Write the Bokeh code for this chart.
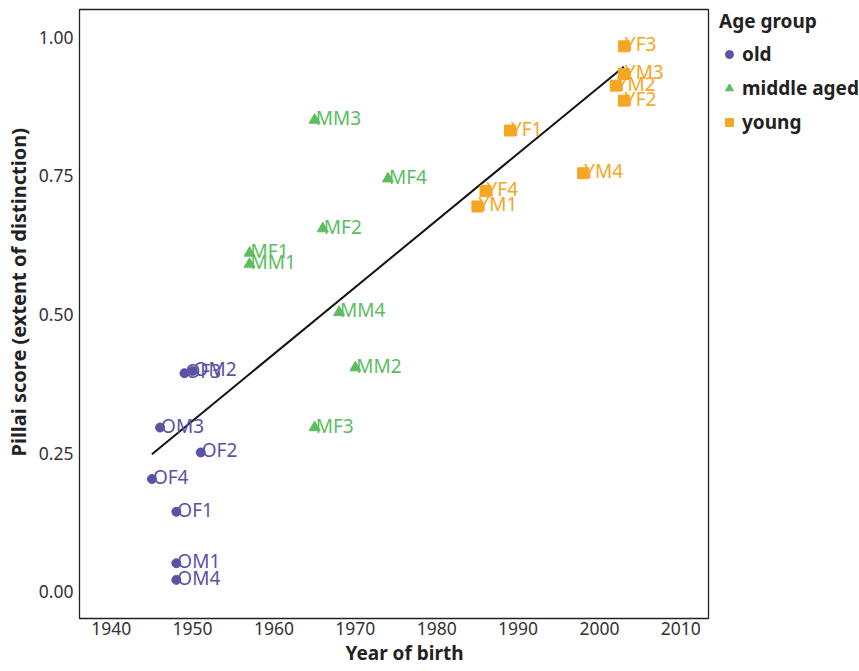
import numpy as np
from bokeh.plotting import figure
from bokeh.models import (ColumnDataSource, Range1d, FixedTicker, PrintfTickFormatter,
                          Legend, LegendItem, Title)
from bokeh.core.properties import value
from bokeh.embed import file_html
from bokeh.resources import INLINE

# ---- data ----
old_labels = ["OF3", "OM2", "OM3", "OF2", "OF4", "OF1", "OM1", "OM4"]
old_year = [1949, 1950, 1946, 1951, 1945, 1948, 1948, 1948]
old_score = [0.394, 0.398, 0.296, 0.251, 0.203, 0.144, 0.051, 0.021]

mid_labels = ["MM3", "MF4", "MF2", "MF1", "MM1", "MM4", "MM2", "MF3"]
mid_year = [1965, 1974, 1966, 1957, 1957, 1968, 1970, 1965]
mid_score = [0.851, 0.745, 0.655, 0.611, 0.591, 0.504, 0.404, 0.296]

young_labels = ["YF3", "YM3", "YM2", "YF2", "YF1", "YM4", "YF4", "YM1"]
young_year = [2003, 2003, 2002, 2003, 1989, 1998, 1986, 1985]
young_score = [0.984, 0.934, 0.913, 0.886, 0.832, 0.755, 0.723, 0.695]

group_names = ["old", "middle aged", "young"]
group_colors = ["#5a52a3", "#5bbd5f", "#f5a623"]
group_markers = ["circle", "triangle", "square"]

x_ticks = [1940, 1950, 1960, 1970, 1980, 1990, 2000, 2010]
y_ticks = [0.0, 0.25, 0.5, 0.75, 1.0]

x_title = "Year of birth"
y_title = "Pillai score (extent of distinction)"

FONT = "Noto Sans"

p = figure(frame_width=629, frame_height=609, output_backend="svg", toolbar_location=None,
           x_range=Range1d(1936.1, 2013.4), y_range=Range1d(-0.0487, 1.0505),
           min_border_left=79, min_border_right=0, min_border_top=9, min_border_bottom=53)

p.xgrid.visible = False
p.ygrid.visible = False
p.outline_line_color = "#222222"
p.outline_line_width = 1.3
p.background_fill_color = "white"
p.border_fill_color = "white"

for ax in (p.xaxis[0], p.yaxis[0]):
    ax.axis_line_color = None
    ax.major_tick_line_color = None
    ax.minor_tick_line_color = None
    ax.major_tick_out = 0
    ax.major_tick_in = 0
    ax.minor_tick_out = 0
    ax.minor_tick_in = 0
    ax.major_label_text_font = FONT
    ax.major_label_text_font_size = "17.5px"
    ax.major_label_text_color = "#333333"

p.xaxis.ticker = FixedTicker(ticks=x_ticks)
p.yaxis.ticker = FixedTicker(ticks=y_ticks)
p.yaxis.formatter = PrintfTickFormatter(format="%.2f")
p.xaxis.major_label_standoff = 3
p.yaxis.major_label_standoff = 6

# axis titles (as side titles so they can sit where the reference puts them)
xt = Title(text=x_title, align="left", offset=266, standoff=0, vertical_align="bottom",
           text_font=FONT, text_font_size="19px", text_font_style="bold",
           text_color="#222222")
p.add_layout(xt, "below")
yt = Title(text=y_title, align="left", offset=162, standoff=6, vertical_align="middle",
           text_font=FONT, text_font_size="20px", text_font_style="bold",
           text_color="#222222")
p.add_layout(yt, "left")

# regression line (linear fit through all points)
all_x = np.array(old_year + mid_year + young_year, dtype=float)
all_y = np.array(old_score + mid_score + young_score, dtype=float)
slope, intercept = np.polyfit(all_x, all_y, 1)
lx = np.array([all_x.min(), all_x.max()])
p.line(lx, slope * lx + intercept, line_color="#111111", line_width=2)

groups = [(old_labels, old_year, old_score),
          (mid_labels, mid_year, mid_score),
          (young_labels, young_year, young_score)]
items = []
for (labs, xs, ys), name, col, mk in zip(groups, group_names, group_colors, group_markers):
    src = ColumnDataSource(dict(x=xs, y=ys, lab=labs))
    size = {"circle": 9, "triangle": 11, "square": 11}[mk]
    r = p.scatter("x", "y", source=src, marker=mk, size=size,
                  fill_color=col, line_color=col)
    p.text("x", "y", text="lab", source=src, text_font=value(FONT),
           text_font_size="19px", text_color=col, text_align="left",
           text_baseline="middle", x_offset=1, y_offset=-2)
    items.append(LegendItem(label=name, renderers=[r]))

legend = Legend(items=items, title="Age group", location=(11, 483))
legend.title_text_font = FONT
legend.title_text_font_size = "19px"
legend.title_text_font_style = "bold"
legend.title_text_color = "#222222"
legend.label_text_font = FONT
legend.label_text_font_size = "19px"
legend.label_text_font_style = "bold"
legend.label_text_color = "#222222"
legend.border_line_color = None
legend.background_fill_alpha = 0
legend.glyph_width = 20
legend.glyph_height = 20
legend.label_height = 20
legend.spacing = 8
legend.label_standoff = 3
legend.padding = 0
legend.margin = 6
legend.title_standoff = 7
p.add_layout(legend, "right")

open("out.html", "w").write(file_html(p, INLINE))
